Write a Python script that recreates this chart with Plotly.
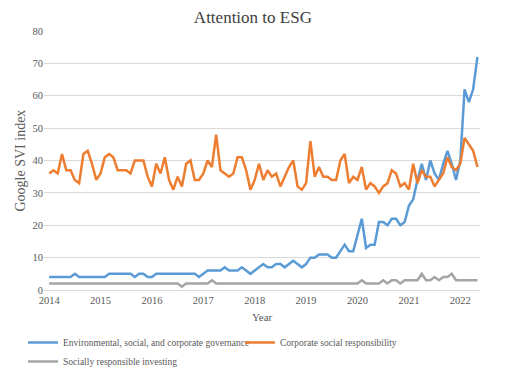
import plotly.graph_objects as go

years = ["2014", "2015", "2016", "2017", "2018", "2019", "2020", "2021", "2022"]
# monthly, Jan 2014 .. May 2022 (101 months)
esg = [4, 4, 4, 4, 4, 4, 5, 4, 4, 4, 4, 4,
       4, 4, 5, 5, 5, 5, 5, 5, 4, 5, 5, 4,
       4, 5, 5, 5, 5, 5, 5, 5, 5, 5, 5, 4,
       5, 6, 6, 6, 6, 7, 6, 6, 6, 7, 6, 5,
       6, 7, 8, 7, 7, 8, 8, 7, 8, 9, 8, 7,
       8, 10, 10, 11, 11, 11, 10, 10, 12, 14, 12, 12,
       17, 22, 13, 14, 14, 21, 21, 20, 22, 22, 20, 21,
       26, 28, 34, 39, 34, 40, 36, 34, 39, 43, 39, 34,
       40, 62, 58, 62, 72]
csr = [36, 37, 36, 42, 37, 37, 34, 33, 42, 43, 39, 34,
       36, 41, 42, 41, 37, 37, 37, 36, 40, 40, 40, 35,
       32, 39, 36, 41, 34, 31, 35, 32, 39, 40, 34, 34,
       36, 40, 38, 48, 37, 36, 35, 36, 41, 41, 37, 31,
       34, 39, 34, 37, 35, 36, 32, 35, 38, 40, 32, 31,
       33, 46, 35, 38, 35, 35, 34, 34, 40, 42, 33, 35,
       34, 38, 31, 33, 32, 30, 32, 33, 37, 36, 32, 33,
       31, 39, 33, 37, 35, 35, 32, 34, 36, 41, 38, 37,
       39, 47, 45, 43, 38]
sri = [2, 2, 2, 2, 2, 2, 2, 2, 2, 2, 2, 2,
       2, 2, 2, 2, 2, 2, 2, 2, 2, 2, 2, 2,
       2, 2, 2, 2, 2, 2, 2, 1, 2, 2, 2, 2,
       2, 2, 3, 2, 2, 2, 2, 2, 2, 2, 2, 2,
       2, 2, 2, 2, 2, 2, 2, 2, 2, 2, 2, 2,
       2, 2, 2, 2, 2, 2, 2, 2, 2, 2, 2, 2,
       2, 3, 2, 2, 2, 2, 3, 2, 3, 3, 2, 3,
       3, 3, 3, 5, 3, 3, 4, 3, 4, 4, 5, 3,
       3, 3, 3, 3, 3]
names = ["Environmental, social, and corporate governance",
         "Corporate social responsibility",
         "Socially responsible investing"]
colors = ["#5B9BD5", "#ED7D31", "#A5A5A5"]

months = list(range(len(esg)))
font = "Liberation Serif, Times New Roman, serif"

fig = go.Figure()
for name, vals, col in zip(names, [esg, csr, sri], colors):
    fig.add_trace(go.Scatter(x=months, y=vals, mode="lines", name=name,
                             line=dict(color=col, width=2.5)))

fig.update_layout(
    width=506, height=371,
    margin=dict(l=36, r=34, t=23, b=89),
    paper_bgcolor="white", plot_bgcolor="white",
    font=dict(family=font, size=10, color="#595959"),
    title=dict(text="Attention to ESG", x=0.484, xanchor="center", y=0.975, yanchor="middle",
               font=dict(family=font, size=17, color="#404040")),
    xaxis=dict(range=[-1.2, 100.6], tickvals=[i * 12 for i in range(len(years))],
               ticktext=years, showgrid=False, showline=True, linecolor="#D9D9D9",
               linewidth=1, ticks="", zeroline=False, automargin=False,
               tickfont=dict(size=10.5, color="#595959")),
    yaxis=dict(range=[0, 80], tickvals=list(range(0, 81, 10)), showgrid=True,
               gridcolor="#D9D9D9", gridwidth=1, zeroline=False, showline=False, ticks="",
               automargin=False,
               tickfont=dict(size=10.5, color="#595959")),
    legend=dict(orientation="h", x=15 / 506, xref="container", xanchor="left",
                y=0.1375, yref="container", yanchor="top",
                font=dict(size=9.5, color="#595959"), itemwidth=30,
                entrywidth=172, entrywidthmode="pixels",
                tracegroupgap=0),
    annotations=[
        dict(text="Year", xref="paper", yref="paper", x=0.5, y=-0.104,
             xanchor="center", yanchor="middle", showarrow=False,
             font=dict(size=11, color="#595959")),
        dict(text="Google SVI index", xref="paper", yref="paper", x=-0.055, y=0.5,
             xanchor="center", yanchor="middle", showarrow=False, textangle=-90,
             font=dict(size=14, color="#595959")),
    ],
)

fig.write_html("out.html")
